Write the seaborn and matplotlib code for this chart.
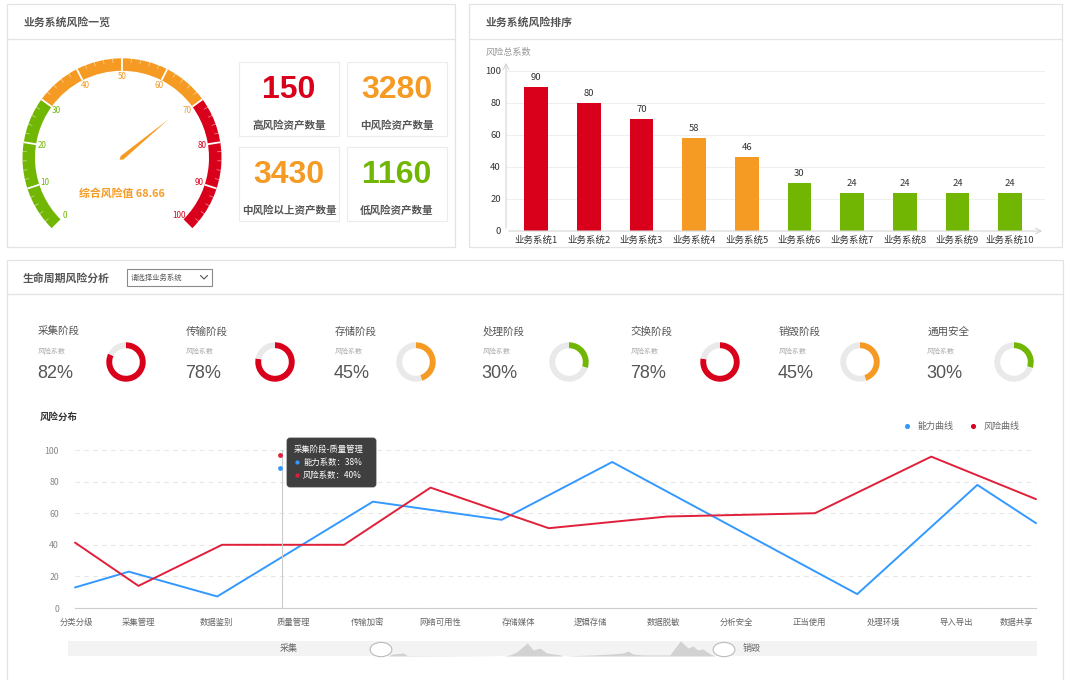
import matplotlib
matplotlib.use("Agg")
import matplotlib.pyplot as plt
from matplotlib.patches import Rectangle, Wedge, Polygon, Ellipse, FancyBboxPatch
import numpy as np
import pandas as pd
import seaborn as sns

W, H = 1080, 680
RED, ORANGE, GREEN = "#d9001b", "#f59a23", "#70b603"
BLUE_LINE, RED_LINE = "#3399ff", "#e0203a"
BORDER = "#e3e3e3"

# ---- data ----
gauge_value = 68.66
gauge_breaks = [0, 30, 70, 100]

kpi_values = [150, 3280, 3430, 1160]
kpi_labels = ["高风险资产数量", "中风险资产数量", "中风险以上资产数量", "低风险资产数量"]

systems = [f"业务系统{i}" for i in range(1, 11)]
system_scores = [90, 80, 70, 58, 46, 30, 24, 24, 24, 24]

stages = ["采集阶段", "传输阶段", "存储阶段", "处理阶段", "交换阶段", "销毁阶段", "通用安全"]
stage_risk = [82, 78, 45, 30, 78, 45, 30]

process_labels = ["分类分级", "采集管理", "数据鉴别", "质量管理", "传输加密", "网络可用性", "存储媒体",
                  "逻辑存储", "数据脱敏", "分析安全", "正当使用", "处理环境", "导入导出", "数据共享"]
process_pos = [0.1, 6.6, 14.7, 22.7, 30.4, 38.0, 46.2, 53.6, 61.2, 68.8, 76.4, 84.1, 91.7, 98.0]
ability_pos = [0, 5.6, 14.8, 31.0, 44.4, 55.9, 81.4, 93.9, 100]
ability_val = [13, 23, 7.3, 67.3, 55.8, 92.4, 8.8, 77.9, 53.7]
risk_pos = [0, 6.6, 15.3, 28.0, 37.0, 49.3, 61.6, 77.0, 89.1, 100]
risk_val = [41.4, 14, 40, 40, 76.2, 50.5, 57.9, 60, 95.8, 68.9]

shadow_pos = [33.0, 33.5, 34.6, 35.0, 45.0, 45.6, 46.3, 47.4, 48.0, 48.7, 49.4, 50.8, 51.1, 54.2,
              55.9, 57.3, 57.8, 58.3, 59.3, 62.1, 63.2, 64.0, 64.5, 65.0, 65.5, 66.3, 66.8]
shadow_h = [0.0, 0.13, 0.2, 0.03, 0.0, 0.07, 0.27, 0.87, 0.4, 0.53, 0.2, 0.07, 0.0, 0.07,
            0.13, 0.2, 0.33, 0.13, 0.07, 0.07, 1.0, 0.53, 0.67, 0.4, 0.47, 0.13, 0.0]


def level_color(v):
    if v >= 70:
        return RED
    if v > 30:
        return ORANGE
    return GREEN


def gauge_label_color(v):
    if v <= 30:
        return GREEN
    if v <= 70:
        return ORANGE
    return RED


sns.set_style("white")
plt.rcParams["font.family"] = ["Noto Sans CJK SC", "DejaVu Sans"]
NUM_FONT = ["Liberation Sans", "DejaVu Sans"]

fig = plt.figure(figsize=(W / 100, H / 100), dpi=100)


def px_axes(x0, y0, x1, y1, zorder=2):
    ax = fig.add_axes([x0 / W, 1 - y1 / H, (x1 - x0) / W, (y1 - y0) / H])
    ax.set_zorder(zorder)
    ax.patch.set_alpha(0)
    return ax


def pixel_layer(zorder):
    ax = fig.add_axes([0, 0, 1, 1])
    ax.set_zorder(zorder)
    ax.patch.set_alpha(0)
    ax.set_xlim(0, W)
    ax.set_ylim(H, 0)
    ax.axis("off")
    return ax


canvas = pixel_layer(0)
overlay = pixel_layer(10)


def panel(x0, y0, x1, y1, title, header_h):
    canvas.add_patch(Rectangle((x0, y0), x1 - x0, y1 - y0, fill=False, ec=BORDER, lw=0.9))
    canvas.plot([x0, x1], [y0 + header_h] * 2, color=BORDER, lw=0.9)
    canvas.text(x0 + 16, y0 + header_h / 2 + 1, title, fontsize=7.8, color="#555555",
                fontweight="bold", va="center")


panel(7, 4, 455, 247, "业务系统风险一览", 35.3)
panel(469, 4, 1062, 247, "业务系统风险排序", 35.3)
panel(7, 260, 1063, 720, "生命周期风险分析", 34.3)

# dropdown
canvas.add_patch(Rectangle((126.5, 269), 85.5, 16.5, fill=False, ec="#8a8a8a", lw=0.8))
canvas.text(131, 277.5, "请选择业务系统", fontsize=5.3, color="#555555", va="center")
canvas.plot([200.5, 204, 207.5], [275.5, 279, 275.5], color="#555555", lw=0.8)

# ---- gauge ----
g = px_axes(12, 48, 232, 238)
g.set_xlim(-110, 110)
g.set_ylim(-80.2, 109.8)
g.axis("off")
R_OUT, R_IN = 99.5, 87.0


def ang(v):
    return 225 - 2.7 * v


for lo, hi in zip(gauge_breaks[:-1], gauge_breaks[1:]):
    g.add_patch(Wedge((0, 0), R_OUT, ang(hi), ang(lo), width=R_OUT - R_IN,
                      fc=gauge_label_color(hi), ec="none"))
for v in np.arange(2, 100, 2):
    a = np.radians(ang(v))
    if v % 10 == 0:
        g.plot([R_IN * np.cos(a), R_OUT * np.cos(a)], [R_IN * np.sin(a), R_OUT * np.sin(a)],
               color="white", lw=1.3, solid_capstyle="butt")
    else:
        g.plot([(R_OUT - 4) * np.cos(a), R_OUT * np.cos(a)],
               [(R_OUT - 4) * np.sin(a), R_OUT * np.sin(a)],
               color="white", lw=0.5, alpha=0.6)
for v in range(0, 101, 10):
    a = np.radians(ang(v))
    g.text(81 * np.cos(a), 81 * np.sin(a), str(v), fontsize=5.8, color=gauge_label_color(v),
           ha="center", va="center")
a = np.radians(ang(gauge_value))
d = np.array([np.cos(a), np.sin(a)])
n = np.array([-np.sin(a), np.cos(a)])
g.add_patch(Polygon([60.6 * d, 2.2 * n, -3 * d, -2.2 * n], closed=True, fc=ORANGE, ec="none"))
g.text(0, -35.2, f"综合风险值 {gauge_value}", ha="center", va="center", color=ORANGE,
       fontsize=7.8, fontweight="bold")

# ---- KPI cards ----
card_xy = [(239.3, 62.3), (347.3, 62.3), (239.3, 147.3), (347.3, 147.3)]
card_colors = [RED, ORANGE, ORANGE, GREEN]
for (cx, cy), val, lab, col in zip(card_xy, kpi_values, kpi_labels, card_colors):
    canvas.add_patch(Rectangle((cx, cy), 99.3, 73.3, fill=False, ec="#ececec", lw=0.8))
    canvas.text(cx + 49.6, cy + 27.5, str(val), ha="center", va="center", color=col,
                fontsize=23, fontweight="bold", family=NUM_FONT)
    canvas.text(cx + 49.6, cy + 63.4, lab, ha="center", va="center", color="#555555",
                fontsize=7.6, fontweight="bold")

# ---- bar ranking ----
bx = px_axes(506, 60, 1045, 231)
bar_colors = [level_color(v) for v in system_scores]
sns.barplot(x=systems, y=system_scores, hue=systems, palette=bar_colors, legend=False,
            width=0.45, saturation=1, linewidth=0, ax=bx)
bx.set_xlim(-0.57, 9.66)
bx.set_ylim(0, 106.7)
bx.set_yticks([0, 20, 40, 60, 80, 100])
bx.yaxis.grid(True, color="#efefef", lw=0.8)
bx.set_axisbelow(True)
for s in bx.spines.values():
    s.set_visible(False)
bx.tick_params(axis="both", length=0, labelsize=6.8, labelcolor="#333333")
bx.tick_params(axis="y", pad=3.8)
bx.tick_params(axis="x", pad=3.4)
bx.set_xlabel("")
bx.set_ylabel("")
for c in bx.containers:
    bx.bar_label(c, fmt="%d", padding=3.5, fontsize=6.8, color="#333333")
bx.annotate("", xy=(0, 1), xytext=(0, 0), xycoords="axes fraction",
            arrowprops=dict(arrowstyle="->", color="#d5d5d5", lw=0.8))
bx.annotate("", xy=(1, 0), xytext=(0, 0), xycoords="axes fraction",
            arrowprops=dict(arrowstyle="->", color="#d5d5d5", lw=0.8))
canvas.text(486, 52.7, "风险总系数", fontsize=6.6, color="#999999", va="center")

# ---- lifecycle donuts ----
title_x = [38 + 148.2 * i for i in range(len(stages))]
donut_cx = [126, 275, 416, 569, 720, 860, 1014]
for tx, cx, name, p in zip(title_x, donut_cx, stages, stage_risk):
    canvas.text(tx, 331.5, name, fontsize=7.6, color="#555555", va="center")
    canvas.text(tx, 352, "风险系数", fontsize=5, color="#aaaaaa", va="center")
    canvas.text(tx - 1, 373, f"{p}%", fontsize=13, color="#555555", va="center", family=NUM_FONT)
    dx = px_axes(cx - 20, 342, cx + 20, 382)
    dx.pie([p, 100 - p], colors=[level_color(p), "#e9e9e9"], startangle=90, counterclock=False,
           wedgeprops=dict(width=0.3, linewidth=0))
    dx.set_xlim(-1.015, 1.015)
    dx.set_ylim(-1.015, 1.015)

# ---- risk distribution lines ----
canvas.text(40, 417, "风险分布", fontsize=6.8, color="#333333", fontweight="bold", va="center")
lx = px_axes(75, 450, 1036, 608)
df = pd.concat([
    pd.DataFrame({"pos": ability_pos, "value": ability_val, "series": "能力曲线"}),
    pd.DataFrame({"pos": risk_pos, "value": risk_val, "series": "风险曲线"}),
])
sns.lineplot(data=df, x="pos", y="value", hue="series", estimator=None, sort=False,
             palette={"能力曲线": BLUE_LINE, "风险曲线": RED_LINE}, lw=1.4, legend=False, ax=lx)
for ln in lx.lines:
    ln.set_clip_on(False)
lx.set_xlim(0, 100)
lx.set_ylim(0, 100)
lx.set_yticks([0, 20, 40, 60, 80, 100])
lx.yaxis.grid(True, ls=(0, (4, 4)), color="#e6e6e6", lw=0.8)
lx.set_axisbelow(True)
for k, s in lx.spines.items():
    s.set_visible(k == "bottom")
lx.spines["bottom"].set_color("#cccccc")
lx.spines["bottom"].set_linewidth(0.8)
lx.set_xticks(process_pos)
lx.set_xticklabels(process_labels)
lx.tick_params(axis="x", length=4, width=0.6, color="#cccccc", labelsize=6, labelcolor="#666666", pad=3.4)
lx.tick_params(axis="y", length=0, labelsize=6.3, labelcolor="#888888", pad=11.5)
lx.set_xlabel("")
lx.set_ylabel("")
lx.axvline(21.5, color="#cccccc", lw=0.8)
lx.scatter([21.3], [96.8], s=6, color=RED_LINE, clip_on=False, zorder=5)
lx.scatter([21.3], [88.4], s=6, color=BLUE_LINE, clip_on=False, zorder=5)

# tooltip
overlay.add_patch(FancyBboxPatch((287, 438), 89, 49, boxstyle="round,pad=0,rounding_size=3",
                                 fc="#333333", ec="#444444", lw=0.6, alpha=0.94))
overlay.text(294, 449.5, "采集阶段-质量管理", fontsize=6, color="white", va="center")
overlay.scatter([297], [462.3], s=4, color=BLUE_LINE)
overlay.text(303, 462.3, "能力系数：38%", fontsize=6, color="white", va="center")
overlay.scatter([297], [475], s=4, color=RED_LINE)
overlay.text(303, 475, "风险系数：40%", fontsize=6, color="white", va="center")

# legend
canvas.scatter([906.7], [426], s=7, color=BLUE_LINE)
canvas.text(917, 426, "能力曲线", fontsize=6.5, color="#666666", va="center")
canvas.scatter([973], [426], s=7, color=RED)
canvas.text(984, 426, "风险曲线", fontsize=6.5, color="#666666", va="center")

# ---- data zoom slider ----
sx = px_axes(68, 641, 1037, 656)
sx.patch.set_alpha(1)
sx.set_facecolor("#f3f3f3")
sx.set_xlim(0, 100)
sx.set_ylim(0, 1)
sx.fill_between(shadow_pos, shadow_h, color="#d2d2d2", lw=0)
for s in sx.spines.values():
    s.set_visible(False)
sx.set_xticks([])
sx.set_yticks([])
for hx in (32.3, 67.7):
    sx.add_patch(Ellipse((hx, 0.43), 2.24, 0.95, fc="white", ec="#bbbbbb", lw=0.8,
                         clip_on=False, zorder=4))
overlay.text(289, 649, "采集", fontsize=6.5, color="#666666", ha="center", va="center")
overlay.text(752, 649, "销毁", fontsize=6.5, color="#666666", ha="center", va="center")

fig.savefig("out.png", dpi=100)
